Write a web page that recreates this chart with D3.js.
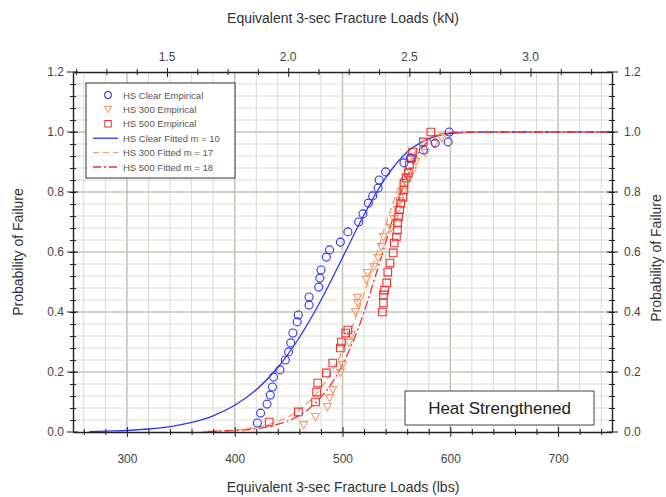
<!DOCTYPE html>
<html>
<head>
<meta charset="utf-8">
<script src="https://cdn.jsdelivr.net/npm/d3@7"></script>
<style>
  body { margin: 0; background: #fff; }
  svg { font-family: 'Liberation Sans', Arial, sans-serif; }
</style>
</head>
<body>
<svg id="chart" width="666" height="497"></svg>
<script>
// empirical points, load in lbs and probability of failure
var clearLoads = [421, 424, 430, 433, 435, 436, 442, 447, 450, 452, 454, 458, 459, 469, 469, 478, 479, 480, 485, 488,
  498, 505, 515, 519, 524, 528, 533, 534, 540, 557, 563, 575, 586, 598, 599]
var clearProb = [0.03, 0.063, 0.093, 0.123, 0.15, 0.183, 0.207, 0.24, 0.267, 0.297, 0.33, 0.367, 0.39, 0.423, 0.45, 0.483, 0.513, 0.54, 0.583, 0.607,
  0.633, 0.667, 0.70, 0.727, 0.763, 0.787, 0.813, 0.84, 0.867, 0.897, 0.913, 0.94, 0.963, 0.967, 1.0]

var hs300Loads = [464, 475, 486, 488, 491, 498, 500, 506, 508, 512, 514, 514, 522, 523, 529, 533, 536, 538,
  545, 548, 551, 553, 556, 559, 562, 565, 568, 577, 585, 592]
var hs300Prob = [0.023, 0.05, 0.083, 0.113, 0.14, 0.197, 0.223, 0.297, 0.323, 0.40, 0.43, 0.447, 0.507, 0.53, 0.55, 0.58, 0.617, 0.65,
  0.68, 0.71, 0.74, 0.77, 0.80, 0.83, 0.85, 0.87, 0.90, 0.93, 0.96, 0.98]

var hs500Loads = [432, 459, 475, 476, 477, 485, 491, 498, 499, 503, 505, 537, 538, 538, 539, 541, 542, 544, 547, 548,
  550, 551, 551, 552, 553, 554, 556, 557, 557, 559, 561, 562, 564, 565, 575, 582]
var hs500Prob = [0.033, 0.067, 0.10, 0.133, 0.163, 0.197, 0.23, 0.28, 0.30, 0.33, 0.34, 0.40, 0.43, 0.457, 0.473, 0.497, 0.533, 0.563, 0.597, 0.63,
  0.65, 0.673, 0.697, 0.717, 0.74, 0.763, 0.783, 0.807, 0.83, 0.847, 0.863, 0.89, 0.913, 0.933, 0.967, 1.0]

// fitted curves
var clearFitLoads = [265, 280, 300, 320, 340, 360, 380, 400, 420, 440, 460, 480, 500, 520, 540, 560, 580, 600, 620, 640, 750]
var clearFitProb = [0.001, 0.003, 0.005, 0.010, 0.018, 0.032, 0.054, 0.089, 0.141, 0.215, 0.315, 0.439, 0.581, 0.724, 0.847, 0.933, 0.978, 0.995, 0.999, 1, 1]

var hs300FitLoads = [370, 380, 400, 420, 440, 460, 480, 500, 520, 540, 560, 580, 600, 620, 750]
var hs300FitProb = [0.001, 0.003, 0.007, 0.016, 0.035, 0.074, 0.146, 0.271, 0.46, 0.69, 0.886, 0.981, 0.999, 1, 1]

var hs500FitLoads = [375, 395, 415, 435, 455, 475, 495, 515, 535, 555, 575, 595, 615, 750]
var hs500FitProb = [0.0015, 0.004, 0.009, 0.021, 0.046, 0.097, 0.191, 0.349, 0.571, 0.804, 0.953, 0.996, 1, 1]

var lbsTicks = [300, 400, 500, 600, 700]
var kNTicks = [1.5, 2.0, 2.5, 3.0]
var probTicks = [0, 0.2, 0.4, 0.6, 0.8, 1.0, 1.2]

var legendNames = ['HS Clear Empirical', 'HS 300 Empirical', 'HS 500 Empirical',
  'HS Clear Fitted m = 10', 'HS 300 Fitted m = 17', 'HS 500 Fitted m = 18']

var blue = '#3535ee', orange = '#f99a6a', red = '#f03030'
var LBS_PER_KN = 1000 / 4.44822

var svg = d3.select('#chart')
var pL = 73, pR = 612, pT = 72, pB = 432

var x = d3.scaleLinear().domain([250, 750]).range([pL, pR])
var xk = d3.scaleLinear().domain([250 / LBS_PER_KN, 750 / LBS_PER_KN]).range([pL, pR])
var y = d3.scaleLinear().domain([0, 1.2]).range([pB, pT])

var xMinor = d3.range(260, 750, 20)
var yMinor = d3.range(1, 30).map(i => i * 0.04)
var kMinor = d3.range(9, 27).map(i => i * 0.125)
var isLbsMajor = d => lbsTicks.indexOf(d) >= 0

// grid
var grid = svg.append('g')
grid.selectAll('line.v').data(xMinor).join('line')
  .attr('x1', d => x(d)).attr('x2', d => x(d)).attr('y1', pT).attr('y2', pB)
  .attr('stroke', d => isLbsMajor(d) ? '#c4c4bb' : '#dcdcd4')
  .attr('stroke-width', d => isLbsMajor(d) ? 1.6 : 1)
grid.selectAll('line.h').data(yMinor).join('line')
  .attr('x1', pL).attr('x2', pR).attr('y1', d => y(d)).attr('y2', d => y(d))
  .attr('stroke', (d, i) => (i + 1) % 5 == 0 ? '#c4c4bb' : '#dcdcd4')
  .attr('stroke-width', (d, i) => (i + 1) % 5 == 0 ? 1.6 : 1)

// fitted curves
var line = d3.line().x(d => x(d[0])).y(d => y(d[1])).curve(d3.curveMonotoneX)
var curves = [
  {loads: clearFitLoads, prob: clearFitProb, color: blue, dash: null},
  {loads: hs300FitLoads, prob: hs300FitProb, color: orange, dash: '7,4'},
  {loads: hs500FitLoads, prob: hs500FitProb, color: red, dash: '9,3,2,3'}
]
svg.append('g').selectAll('path').data(curves).join('path')
  .attr('d', c => line(c.loads.map((v, i) => [v, c.prob[i]])))
  .attr('fill', 'none')
  .attr('stroke', c => c.color)
  .attr('stroke-width', 1.3)
  .attr('stroke-dasharray', c => c.dash)

// markers
var shapes = {
  circle: 'M4,0A4,4 0 1,1 -4,0A4,4 0 1,1 4,0Z',
  tri: 'M-4,-3.5L4,-3.5L0,3.8Z',
  square: 'M-3.8,-3.8H3.8V3.8H-3.8Z'
}
var sets = [
  {loads: hs300Loads, prob: hs300Prob, color: orange, shape: 'tri'},
  {loads: hs500Loads, prob: hs500Prob, color: red, shape: 'square'},
  {loads: clearLoads, prob: clearProb, color: blue, shape: 'circle'}
]
sets.forEach(s => {
  svg.append('g').selectAll('path').data(s.loads).join('path')
    .attr('transform', (d, i) => `translate(${x(d)},${y(s.prob[i])})`)
    .attr('d', shapes[s.shape])
    .attr('fill', 'none')
    .attr('stroke', s.color)
    .attr('stroke-width', 1.1)
})

// axes
function styleAxis(g) {
  g.select('.domain').attr('stroke', '#222').attr('stroke-width', 1.4)
  g.selectAll('.tick line').attr('stroke', '#222').attr('stroke-width', 1)
}
var fmt1 = d3.format('.1f')

var ax = svg.append('g').attr('transform', `translate(0,${pB})`)
  .call(d3.axisBottom(x).tickValues(xMinor).tickFormat('').tickSizeOuter(0))
styleAxis(ax)
ax.selectAll('.tick line').attr('y1', -3).attr('y2', 3)
ax.selectAll('.tick line').filter(isLbsMajor).attr('y1', -5).attr('y2', 5)
ax.selectAll('.tick').filter(isLbsMajor).append('text')
  .attr('y', 31).attr('text-anchor', 'middle').attr('fill', '#444').attr('font-size', 12)
  .text(d => d)

var axTop = svg.append('g').attr('transform', `translate(0,${pT})`)
  .call(d3.axisTop(xk).tickValues(kMinor).tickFormat('').tickSizeOuter(0))
styleAxis(axTop)
axTop.selectAll('.tick line').attr('y1', -3).attr('y2', 3)
axTop.selectAll('.tick line').filter(d => kNTicks.some(k => Math.abs(k - d) < 1e-6)).attr('y1', -4).attr('y2', 5)
svg.append('g').selectAll('text').data(kNTicks).join('text')
  .attr('x', d => xk(d)).attr('y', pT - 11)
  .attr('text-anchor', 'middle').attr('fill', '#444').attr('font-size', 12)
  .text(fmt1)

var ay = svg.append('g').attr('transform', `translate(${pL},0)`)
  .call(d3.axisLeft(y).tickValues(yMinor).tickFormat('').tickSizeOuter(0))
styleAxis(ay)
ay.selectAll('.tick line').attr('x1', -3).attr('x2', 3)
var ay2 = svg.append('g').attr('transform', `translate(${pR},0)`)
  .call(d3.axisRight(y).tickValues(yMinor).tickFormat('').tickSizeOuter(0))
styleAxis(ay2)
ay2.selectAll('.tick line').attr('x1', -3).attr('x2', 3)

var majorY = svg.append('g')
majorY.selectAll('line.l').data(probTicks).join('line').attr('class', 'l')
  .attr('x1', pL - 6).attr('x2', pL + 5).attr('y1', d => y(d)).attr('y2', d => y(d))
  .attr('stroke', '#222')
majorY.selectAll('line.r').data(probTicks).join('line').attr('class', 'r')
  .attr('x1', pR - 5).attr('x2', pR + 6).attr('y1', d => y(d)).attr('y2', d => y(d))
  .attr('stroke', '#222')
majorY.selectAll('text.l').data(probTicks).join('text').attr('class', 'l')
  .attr('x', pL - 9).attr('y', d => y(d) + 4).attr('text-anchor', 'end')
  .attr('fill', '#444').attr('font-size', 12).text(fmt1)
majorY.selectAll('text.r').data(probTicks).join('text').attr('class', 'r')
  .attr('x', pR + 12).attr('y', d => y(d) + 4).attr('text-anchor', 'start')
  .attr('fill', '#444').attr('font-size', 12).text(fmt1)

// axis titles
svg.append('text').attr('x', 343).attr('y', 23).attr('text-anchor', 'middle')
  .attr('fill', '#333').attr('font-size', 14).text('Equivalent 3-sec Fracture Loads (kN)')
svg.append('text').attr('x', 343).attr('y', 492).attr('text-anchor', 'middle')
  .attr('fill', '#333').attr('font-size', 14).text('Equivalent 3-sec Fracture Loads (lbs)')
svg.append('text').attr('transform', 'translate(23,252) rotate(-90)').attr('text-anchor', 'middle')
  .attr('fill', '#333').attr('font-size', 14).text('Probability of Failure')
svg.append('text').attr('transform', 'translate(661,258) rotate(-90)').attr('text-anchor', 'middle')
  .attr('fill', '#333').attr('font-size', 14).text('Probability of Failure')

// legend
var lg = svg.append('g').attr('transform', 'translate(86,83)')
lg.append('rect').attr('width', 149).attr('height', 95)
  .attr('fill', '#fff').attr('stroke', '#333').attr('stroke-width', 1)
var legendItems = legendNames.map((name, i) => ({
  name: name,
  color: [blue, orange, red][i % 3],
  shape: i < 3 ? ['circle', 'tri', 'square'][i] : null,
  dash: i < 3 ? null : [null, '6,4', '8,3,2,3'][i - 3]
}))
var item = lg.selectAll('g.item').data(legendItems).join('g')
  .attr('transform', (d, i) => `translate(0,${12 + i * 14.4})`)
item.filter(d => d.shape).append('path')
  .attr('transform', 'translate(22,0) scale(0.85)')
  .attr('d', d => shapes[d.shape]).attr('fill', 'none')
  .attr('stroke', d => d.color).attr('stroke-width', 1.2)
item.filter(d => !d.shape).append('line')
  .attr('x1', 7).attr('x2', 32).attr('stroke', d => d.color)
  .attr('stroke-width', 1.3).attr('stroke-dasharray', d => d.dash)
item.append('text').attr('x', 37).attr('y', 3.5)
  .attr('fill', '#555').attr('font-size', 9.5).text(d => d.name)

// caption box
var cap = svg.append('g').attr('transform', 'translate(405,391)')
cap.append('rect').attr('width', 189).attr('height', 34)
  .attr('fill', '#fff').attr('stroke', '#444').attr('stroke-width', 1)
cap.append('text').attr('x', 94.5).attr('y', 23).attr('text-anchor', 'middle')
  .attr('fill', '#222').attr('font-size', 17).text('Heat Strengthened')
</script>
</body>
</html>
